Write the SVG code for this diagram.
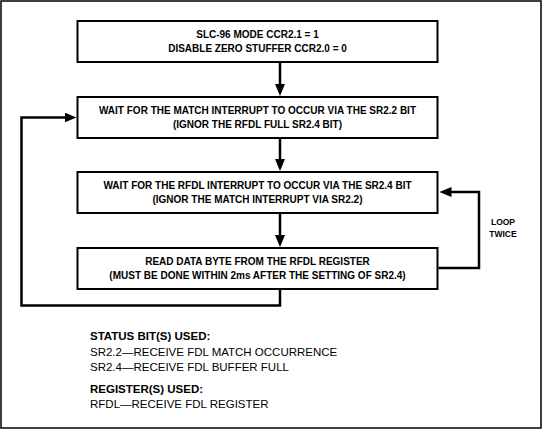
<svg xmlns="http://www.w3.org/2000/svg" width="542" height="429" viewBox="0 0 542 429">
<style>
.box{fill:#fff;stroke:#000;stroke-width:2}
.bt{font-family:"Liberation Sans",Arial,sans-serif;font-weight:bold;font-size:10px;fill:#000;text-anchor:middle}
.lt{font-family:"Liberation Sans",Arial,sans-serif;font-weight:bold;font-size:8.5px;fill:#000;text-anchor:middle}
.nt{font-family:"Liberation Sans",Arial,sans-serif;font-size:11.5px;fill:#000}
.nb{font-weight:bold}
.c{fill:none;stroke:#000;stroke-width:2.5}
</style>
<defs>
<marker id="ah" viewBox="0 0 12 10" refX="8" refY="5" markerWidth="12" markerHeight="10" markerUnits="userSpaceOnUse" orient="auto">
<path d="M0,0 L12,5 L0,10 z" fill="#000"/>
</marker>
</defs>
<rect x="1" y="1" width="540" height="427" fill="#fff" stroke="#000" stroke-width="1.5"/>
<g id="connectors">
<line class="c" x1="280" y1="62" x2="280" y2="92" marker-end="url(#ah)"/>
<line class="c" x1="280" y1="138" x2="280" y2="167" marker-end="url(#ah)"/>
<line class="c" x1="280" y1="213" x2="280" y2="243" marker-end="url(#ah)"/>
<polyline class="c" points="280,289 280,305.5 21.5,305.5 21.5,117.5 72.5,117.5" marker-end="url(#ah)"/>
<polyline class="c" points="438.5,268 479,268 479,192 443.5,192" marker-end="url(#ah)"/>
</g>
<g id="n1">
<rect class="box" x="77.5" y="21" width="360" height="41"/>
<text class="bt" x="257.5" y="38">SLC-96 MODE CCR2.1 = 1</text>
<text class="bt" x="257.5" y="52">DISABLE ZERO STUFFER CCR2.0 = 0</text>
</g>
<g id="n2">
<rect class="box" x="77.5" y="97" width="360" height="41"/>
<text class="bt" x="257.5" y="114">WAIT FOR THE MATCH INTERRUPT TO OCCUR VIA THE SR2.2 BIT</text>
<text class="bt" x="257.5" y="128">(IGNOR THE RFDL FULL SR2.4 BIT)</text>
</g>
<g id="n3">
<rect class="box" x="77.5" y="172" width="360" height="41"/>
<text class="bt" x="257.5" y="189">WAIT FOR THE RFDL INTERRUPT TO OCCUR VIA THE SR2.4 BIT</text>
<text class="bt" x="257.5" y="203">(IGNOR THE MATCH INTERRUPT VIA SR2.2)</text>
</g>
<g id="n4">
<rect class="box" x="77.5" y="248" width="360" height="41"/>
<text class="bt" x="257.5" y="265">READ DATA BYTE FROM THE RFDL REGISTER</text>
<text class="bt" x="257.5" y="279">(MUST BE DONE WITHIN 2ms AFTER THE SETTING OF SR2.4)</text>
</g>
<g id="loop-label">
<text class="lt" x="503" y="225">LOOP</text>
<text class="lt" x="503" y="237">TWICE</text>
</g>
<g id="notes">
<text class="nt nb" x="90" y="340">STATUS BIT(S) USED:</text>
<text class="nt" x="90" y="355.5">SR2.2—RECEIVE FDL MATCH OCCURRENCE</text>
<text class="nt" x="90" y="370.5">SR2.4—RECEIVE FDL BUFFER FULL</text>
<text class="nt nb" x="90" y="393">REGISTER(S) USED:</text>
<text class="nt" x="90" y="408">RFDL—RECEIVE FDL REGISTER</text>
</g>
</svg>
